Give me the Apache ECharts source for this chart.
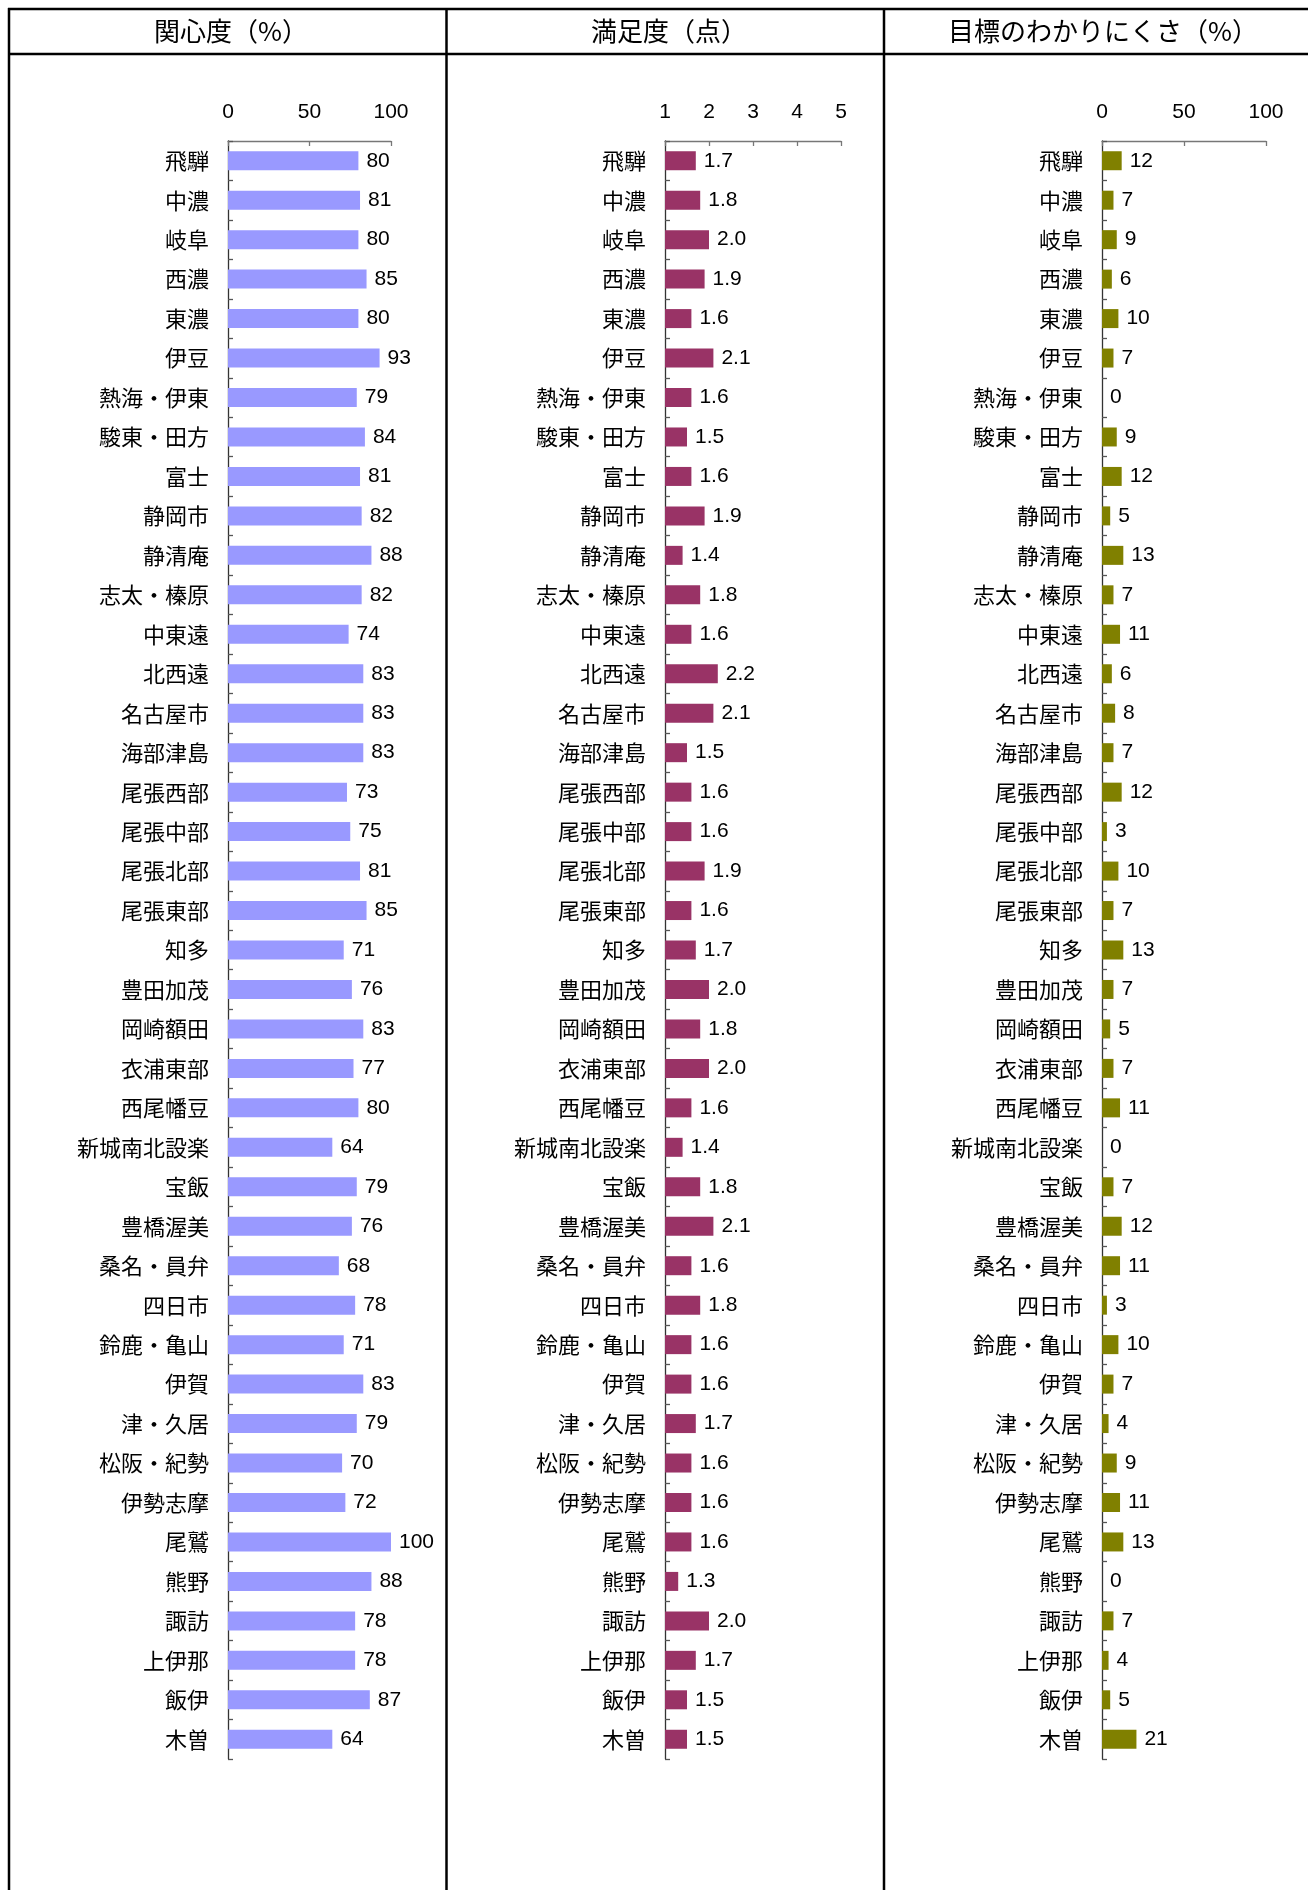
<!DOCTYPE html>
<html>
<head>
<meta charset="utf-8">
<script src="https://cdn.jsdelivr.net/npm/echarts@6/dist/echarts.min.js"></script>
<style>
  html, body { margin: 0; padding: 0; background: #fff; }
  #chart { width: 1308px; height: 1890px; }
</style>
</head>
<body>
<div id="chart"></div>
<script>
const categories = ['飛騨','中濃','岐阜','西濃','東濃','伊豆','熱海・伊東','駿東・田方','富士','静岡市','静清庵','志太・榛原','中東遠','北西遠','名古屋市','海部津島','尾張西部','尾張中部','尾張北部','尾張東部','知多','豊田加茂','岡崎額田','衣浦東部','西尾幡豆','新城南北設楽','宝飯','豊橋渥美','桑名・員弁','四日市','鈴鹿・亀山','伊賀','津・久居','松阪・紀勢','伊勢志摩','尾鷲','熊野','諏訪','上伊那','飯伊','木曽'];

const interestPct = [80,81,80,85,80,93,79,84,81,82,88,82,74,83,83,83,73,75,81,85,71,76,83,77,80,64,79,76,68,78,71,83,79,70,72,100,88,78,78,87,64];

const satisfactionPts = [1.7,1.8,2.0,1.9,1.6,2.1,1.6,1.5,1.6,1.9,1.4,1.8,1.6,2.2,2.1,1.5,1.6,1.6,1.9,1.6,1.7,2.0,1.8,2.0,1.6,1.4,1.8,2.1,1.6,1.8,1.6,1.6,1.7,1.6,1.6,1.6,1.3,2.0,1.7,1.5,1.5];

const unclearPct = [12,7,9,6,10,7,0,9,12,5,13,7,11,6,8,7,12,3,10,7,13,7,5,7,11,0,7,12,11,3,10,7,4,9,11,13,0,7,4,5,21];

const panelTitles = ['関心度（%）', '満足度（点）', '目標のわかりにくさ（%）'];
const axisRanges = [[0, 100, 50], [1, 5, 1], [0, 100, 50]];
const panelColors = ['#9999FF', '#993366', '#808000'];
const panelData = [interestPct, satisfactionPts, unclearPct];
const decimals = [0, 1, 0];

const CJK = '"Noto Sans CJK JP", "Noto Sans", sans-serif';
const NUM = '"Liberation Sans", Arial, sans-serif';

const gridLefts = [228, 665, 1102];
const gridWidths = [163, 176, 164];
const titleCenters = [226, 664, 1098];

const chart = echarts.init(document.getElementById('chart'), null, { renderer: 'canvas' });

const grids = [], xAxes = [], yAxes = [], series = [], titles = [];
for (let i = 0; i < 3; i++) {
  grids.push({ left: gridLefts[i], width: gridWidths[i], top: 141, height: 1618, containLabel: false });
  titles.push({
    text: panelTitles[i], left: titleCenters[i], top: 13, textAlign: 'center',
    textStyle: { fontFamily: CJK, fontSize: 26, fontWeight: 'normal', color: '#000' }
  });
  xAxes.push({
    type: 'value', gridIndex: i, position: 'top',
    min: axisRanges[i][0], max: axisRanges[i][1], interval: axisRanges[i][2],
    axisLine: { show: true, lineStyle: { color: '#777', width: 1.3 } },
    axisTick: { show: true, inside: true, length: 5, lineStyle: { color: '#777', width: 1.3 } },
    splitLine: { show: false },
    axisLabel: { show: true, margin: 18, fontFamily: NUM, fontSize: 21, color: '#000' }
  });
  yAxes.push({
    type: 'category', gridIndex: i, data: categories, inverse: true,
    axisLine: { show: true, lineStyle: { color: '#333', width: 1.3 } },
    axisTick: { show: true, inside: true, length: 5, lineStyle: { color: '#555', width: 1.3 } },
    axisLabel: { margin: 19, fontFamily: CJK, fontSize: 22, color: '#000' }
  });
  const d = decimals[i];
  series.push({
    type: 'bar', xAxisIndex: i, yAxisIndex: i, data: panelData[i],
    barWidth: 19, itemStyle: { color: panelColors[i] },
    label: {
      show: true, position: 'right', distance: 8,
      fontFamily: NUM, fontSize: 21, color: '#000',
      formatter: p => Number(p.value).toFixed(d)
    },
    clip: true, silent: true
  });
}

const lineStyle = { stroke: '#000', lineWidth: 2.5 };
const graphic = [
  { type: 'line', shape: { x1: 8, y1: 9, x2: 1308, y2: 9 }, style: lineStyle },
  { type: 'line', shape: { x1: 8, y1: 54, x2: 1308, y2: 54 }, style: lineStyle },
  { type: 'line', shape: { x1: 9, y1: 8, x2: 9, y2: 1890 }, style: lineStyle },
  { type: 'line', shape: { x1: 446.5, y1: 8, x2: 446.5, y2: 1890 }, style: lineStyle },
  { type: 'line', shape: { x1: 884, y1: 8, x2: 884, y2: 1890 }, style: lineStyle }
];

chart.setOption({
  animation: false,
  backgroundColor: '#fff',
  title: titles,
  grid: grids,
  xAxis: xAxes,
  yAxis: yAxes,
  series: series,
  graphic: graphic
});
</script>
</body>
</html>
